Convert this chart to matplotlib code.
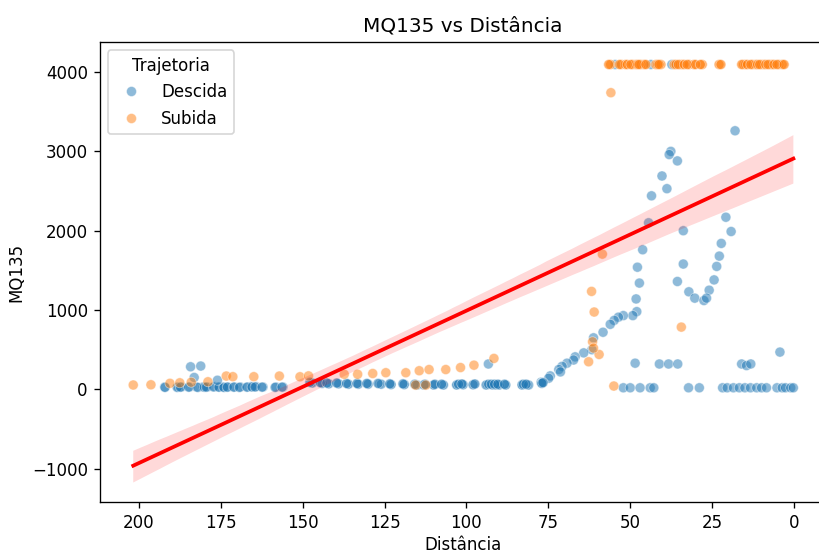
import matplotlib
matplotlib.use("Agg")
import matplotlib.pyplot as plt
import pandas as pd
import seaborn as sns

# ---------------- data ----------------
# Descida (blue)
desc_dist = [
    # saturated top row
    54.6, 43.7, 37.3,
    # high curve
    18.0, 37.6, 38.1, 35.6, 40.3, 38.8, 43.5, 44.4, 20.8, 19.2, 33.8, 46.2, 22.2, 22.8,
    33.8, 47.8, 23.6, 47.2, 35.6, 24.4, 48.2, 25.9, 32.1, 30.3, 27.5, 26.7, 48.0, 49.2,
    52.1, 53.6, 54.9, 56.1, 58.3, 61.2, 61.7, 64.2, 66.8, 67.3, 69.3, 70.8, 71.8, 71.3,
    74.4, 74.9, 77.2,
    # ~300 row
    48.5, 41.1, 38.3, 35.5, 16.0, 14.5, 13.2, 4.3, 93.3,
    # bottom row near zero
    52.1, 50.0, 47.0, 43.9, 42.8, 32.2, 28.9, 21.8, 20.4, 18.5, 16.7, 15.0, 13.3, 11.4,
    9.9, 8.4, 5.2, 3.6, 2.6, 1.0, 0.2,
    # baseline 75-150 (overlapping passes)
    147.4, 144.3, 142.3, 139.3, 136.3, 133.2, 130.2, 126.6, 123.1, 119.0, 115.5, 112.9,
    109.9, 107.3, 102.8, 101.2, 97.7, 93.6, 92.1, 91.1, 90.1, 88.1, 83.0, 81.5, 76.9,
    147.0, 144.0, 142.0, 139.0, 136.0, 133.0, 130.0, 126.0, 123.0, 119.0, 115.0, 113.0,
    110.0, 107.0, 103.0, 101.0, 98.0, 94.0, 92.0, 91.0, 90.0, 88.0, 83.0, 81.0, 77.0,
    147.8, 144.6, 142.6, 139.6, 136.6, 133.4, 130.4, 127.0, 123.4, 119.4, 115.8, 112.6,
    109.6, 107.6, 102.4, 101.4, 97.4, 93.2, 92.4, 91.4, 90.4, 88.4, 82.6, 81.8, 76.6,
    # left cluster (overlapping passes)
    192.1, 188.0, 187.0, 184.5, 182.4, 180.4, 179.1, 176.9, 175.8, 174.3, 172.8, 170.8,
    169.0, 166.7, 165.7, 164.2, 162.1, 158.1, 156.0,
    192.0, 188.3, 187.3, 184.8, 182.0, 180.0, 179.4, 177.2, 175.5, 174.0, 173.0, 171.0,
    169.3, 167.0, 165.4, 164.5, 162.4, 158.4, 156.3,
    # isolated higher points
    184.2, 181.1, 183.1, 176.0,
]
desc_mq = [
    4095, 4095, 4095,
    3260, 3000, 2960, 2880, 2690, 2530, 2440, 2100, 2170, 1990, 2000, 1760, 1840, 1680,
    1580, 1540, 1550, 1340, 1360, 1380, 1140, 1250, 1230, 1150, 1120, 1150, 980, 930,
    930, 910, 870, 820, 720, 650, 500, 460, 410, 370, 330, 290, 250, 220,
    170, 140, 90,
    330, 320, 320, 320, 320, 300, 320, 470, 320,
    20, 20, 20, 20, 20, 20, 20, 20, 20, 20, 20, 20, 20, 20,
    20, 20, 20, 20, 20, 20, 20,
    85, 80, 75, 75, 70, 70, 70, 70, 65, 65, 60, 60,
    60, 60, 60, 63, 63, 60, 60, 60, 60, 60, 60, 60, 80,
    80, 75, 70, 70, 65, 65, 65, 65, 60, 60, 55, 55,
    55, 55, 55, 58, 58, 55, 55, 55, 55, 55, 55, 55, 75,
    90, 85, 80, 80, 75, 75, 75, 75, 70, 70, 65, 65,
    65, 65, 65, 68, 68, 65, 65, 65, 65, 65, 65, 65, 85,
    30, 30, 30, 30, 30, 30, 30, 35, 30, 30, 30, 30,
    30, 30, 35, 35, 30, 30, 30,
    25, 25, 28, 28, 25, 28, 28, 30, 28, 25, 28, 28,
    25, 28, 30, 30, 28, 25, 28,
    285, 294, 150, 115,
]

# Subida (orange)
sub_dist = [
    201.7, 196.3, 190.5, 187.5, 184.0, 178.9, 173.3, 171.3, 164.9, 157.1, 150.8, 148.2,
    137.3, 133.2, 128.6, 124.6, 118.5, 114.4, 111.4, 106.3, 101.8, 97.7, 91.6,
    115.5, 112.4,
    62.7, 59.5, 61.0, 61.8, 58.5, 55.9, 34.4, 55.0, 61.5, 61.2,
    # saturated top row (overlapping passes)
    56.3, 53.0, 51.2, 49.5, 48.0, 47.0, 45.5, 41.9, 40.9, 36.3, 35.0, 33.8, 32.3, 30.3,
    28.3, 22.6, 15.7, 14.5, 12.9, 11.4, 10.2, 8.9, 7.6, 6.4, 4.9, 3.3,
    56.0, 52.7, 51.5, 49.2, 48.3, 46.7, 45.8, 42.2, 40.6, 36.6, 34.7, 34.1, 32.0, 30.6,
    28.0, 22.9, 15.4, 14.8, 12.6, 11.7, 9.9, 9.2, 7.3, 6.7, 4.6, 3.6,
    56.6, 53.3, 50.9, 49.8, 47.7, 47.3, 45.2, 41.6, 41.2, 36.0, 35.3, 33.5, 32.6, 30.0,
    28.6, 22.3, 16.0, 14.2, 13.2, 11.1, 10.5, 8.6, 7.9, 6.1, 5.2, 3.0,
]
sub_mq = [
    55, 58, 76, 83, 90, 96, 168, 160, 160, 168, 159, 170,
    190, 190, 200, 210, 210, 235, 250, 250, 275, 305, 390,
    54, 54,
    348, 440, 975, 1235, 1705, 3740, 785, 42, 600, 520,
    4095, 4095, 4095, 4095, 4095, 4095, 4095, 4095, 4095, 4095, 4095, 4095, 4095, 4095,
    4095, 4095, 4095, 4095, 4095, 4095, 4095, 4095, 4095, 4095, 4095, 4095,
    4095, 4095, 4095, 4095, 4095, 4095, 4095, 4095, 4095, 4095, 4095, 4095, 4095, 4095,
    4095, 4095, 4095, 4095, 4095, 4095, 4095, 4095, 4095, 4095, 4095, 4095,
    4095, 4095, 4095, 4095, 4095, 4095, 4095, 4095, 4095, 4095, 4095, 4095, 4095, 4095,
    4095, 4095, 4095, 4095, 4095, 4095, 4095, 4095, 4095, 4095, 4095, 4095,
]

traj_labels = ["Descida", "Subida"]
x_ticks = [200, 175, 150, 125, 100, 75, 50, 25, 0]

df = pd.DataFrame({
    "Distância": desc_dist + sub_dist,
    "MQ135": desc_mq + sub_mq,
    "Trajetoria": [traj_labels[0]] * len(desc_dist) + [traj_labels[1]] * len(sub_dist),
})

fig = plt.figure(figsize=(819 / 120, 553 / 120), dpi=120)
ax = fig.add_axes([0.1215, 0.0922, 0.888, 0.832])

sns.scatterplot(data=df, x="Distância", y="MQ135", hue="Trajetoria",
                hue_order=traj_labels, alpha=0.5, ax=ax)
sns.regplot(data=df, x="Distância", y="MQ135", scatter=False, color="red",
            seed=0, ax=ax)

ax.set_xlim(212, -10)
ax.set_ylim(-1420, 4380)
ax.set_xticks(x_ticks)
ax.set_title("MQ135 vs Distância")
ax.set_xlabel("Distância", labelpad=2.5)
ax.legend(title="Trajetoria", loc="upper left")

fig.savefig("out.png", dpi=120)
